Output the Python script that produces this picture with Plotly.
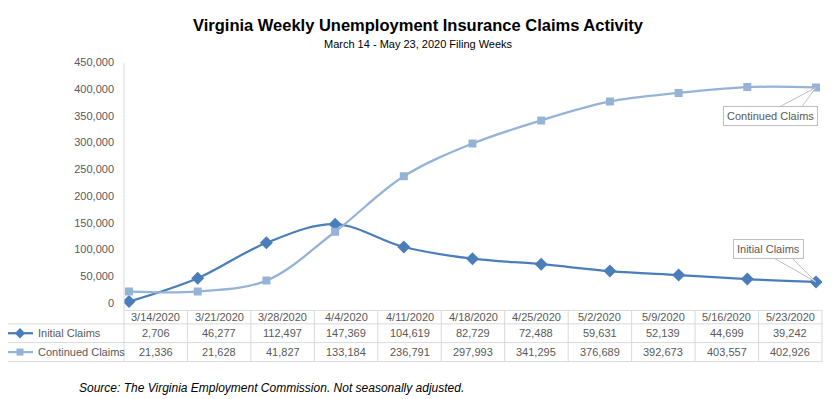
import plotly.graph_objects as go

# ---- data ----
weeks = ["3/14/2020", "3/21/2020", "3/28/2020", "4/4/2020", "4/11/2020", "4/18/2020",
         "4/25/2020", "5/2/2020", "5/9/2020", "5/16/2020", "5/23/2020"]
initial_claims = [2706, 46277, 112497, 147369, 104619, 82729, 72488, 59631, 52139, 44699, 39242]
continued_claims = [21336, 21628, 41827, 133184, 236791, 297993, 341295, 376689, 392673, 403557, 402926]
series_names = ["Initial Claims", "Continued Claims"]
y_ticks = list(range(0, 450001, 50000))

title = "Virginia Weekly Unemployment Insurance Claims Activity"
subtitle = "March 14 - May 23, 2020 Filing Weeks"
source = "Source: The Virginia Employment Commission. Not seasonally adjusted."

# ---- style / geometry (window pixel coordinates; page has 8px body margin) ----
OFF = 8
WIN_W, WIN_H = 839, 399
W, H = WIN_W - OFF, WIN_H - OFF
C_INIT = "#4A7EBB"
C_CONT = "#95B3D7"
GRID = "#D9D9D9"
TXT = "#595959"
FONT = "Liberation Sans, Arial, sans-serif"

PL, PR, PT, PB = 124, 822, 57, 309     # plot area in window pixels
X0_PX, X_STEP = 129, 68.7               # first point pixel, px per category
Y_TOP = 450000
Y0_PX = 301.5                           # pixel of value 0
Y_SCALE = (Y0_PX - PT) / Y_TOP
y_min = -(PB - Y0_PX) / Y_SCALE
x_min = -(X0_PX - PL) / X_STEP
x_max = (PR - X0_PX) / X_STEP

def px_x(i):
    return X0_PX + i * X_STEP

def px_y(v):
    return Y0_PX - v * Y_SCALE

def fx(px):
    return (px - OFF) / W

def fy(py):
    return 1 - (py - OFF) / H

xs = list(range(len(weeks)))

fig = go.Figure()
fig.add_trace(go.Scatter(x=xs, y=initial_claims, name=series_names[0], mode="lines+markers",
                         line=dict(color=C_INIT, width=2.25, shape="spline", smoothing=1),
                         marker=dict(symbol="diamond", size=10, color=C_INIT),
                         xaxis="x", yaxis="y", hoverinfo="skip"))
fig.add_trace(go.Scatter(x=xs, y=continued_claims, name=series_names[1], mode="lines+markers",
                         line=dict(color=C_CONT, width=2.25, shape="spline", smoothing=1),
                         marker=dict(symbol="square", size=8, color=C_CONT),
                         xaxis="x", yaxis="y", hoverinfo="skip"))

# ---- data table (pixel axes) ----
col_w = (PR - PL) / len(weeks)
row_y = [PB, 322.7, 341.7, 361]
LEFT = 3.3
shapes = []
annotations = []

def hline(x0, x1, y):
    shapes.append(dict(type="line", xref="x2", yref="y2", x0=x0, x1=x1, y0=y, y1=y,
                       line=dict(color=GRID, width=1), layer="below"))

def vline(x, y0, y1):
    shapes.append(dict(type="line", xref="x2", yref="y2", x0=x, x1=x, y0=y0, y1=y1,
                       line=dict(color=GRID, width=1), layer="below"))

hline(PL, PR, row_y[0])
for ry in row_y[1:]:
    hline(LEFT, PR, ry)
for i in range(len(weeks) + 1):
    vline(PL + i * col_w, row_y[0], row_y[3])
vline(LEFT, row_y[1], row_y[3])
# y axis line
vline(PL, PT + 1, PB)

def txt(x, y, s, size=11, color=TXT, xanchor="center", family=FONT, **kw):
    annotations.append(dict(xref="x2", yref="y2", x=x, y=y, text=s, showarrow=False,
                            xanchor=xanchor, yanchor="middle",
                            font=dict(family=family, size=size, color=color), **kw))

rows = [initial_claims, continued_claims]
for i, w in enumerate(weeks):
    cx = PL + (i + 0.5) * col_w
    txt(cx, (row_y[0] + row_y[1]) / 2, w)
    for r, vals in enumerate(rows):
        txt(cx, (row_y[r + 1] + row_y[r + 2]) / 2, f"{vals[i]:,}")

# legend keys inside table
for r, (name, col, sym, sz) in enumerate([(series_names[0], C_INIT, "diamond", 8),
                                          (series_names[1], C_CONT, "square", 7)]):
    cy = (row_y[r + 1] + row_y[r + 2]) / 2
    fig.add_trace(go.Scatter(x=[7, 33], y=[cy, cy], mode="lines", line=dict(color=col, width=2.25),
                             xaxis="x2", yaxis="y2", hoverinfo="skip", showlegend=False))
    fig.add_trace(go.Scatter(x=[20], y=[cy], mode="markers", marker=dict(symbol=sym, size=sz, color=col),
                             xaxis="x2", yaxis="y2", hoverinfo="skip", showlegend=False))
    txt(36, cy, name, xanchor="left")

# ---- titles ----
txt(418, 19, f"<b>{title}</b>", size=16.5, color="#000000")
txt(418, 38, subtitle, size=11, color="#000000")
txt(77, 388, f"<i>{source}</i>", size=12, color="#000000", xanchor="left")

# ---- callouts ----
def callout(text, cx, cy, bx0, bx1, by, tip_i, tip_v):
    tx, ty = px_x(tip_i), px_y(tip_v)
    shapes.append(dict(type="path", xref="x2", yref="y2",
                       path=f"M {bx0},{by} L {tx},{ty} L {bx1},{by} Z",
                       fillcolor="white", line=dict(color="#BFBFBF", width=1), layer="above"))
    txt(cx, cy, text, bgcolor="white", bordercolor="#BFBFBF", borderwidth=1, borderpad=3)

last = len(weeks) - 1
callout(series_names[1], 770, 111.5, 780, 802, 102, last, continued_claims[last])
callout(series_names[0], 768, 247, 774, 792, 256, last, initial_claims[last])

fig.update_layout(
    width=W, height=H, autosize=False,
    margin=dict(l=0, r=0, t=0, b=0),
    paper_bgcolor="white", plot_bgcolor="rgba(0,0,0,0)",
    showlegend=False,
    shapes=shapes, annotations=annotations,
    xaxis=dict(domain=[fx(PL), fx(PR)], range=[x_min, x_max], showgrid=False, zeroline=False,
               showticklabels=False, showline=False, fixedrange=True, anchor="y"),
    yaxis=dict(domain=[fy(PB), fy(PT)], range=[y_min, Y_TOP], showgrid=False, zeroline=False,
               tickvals=y_ticks, tickformat=",", ticks="", ticklabelstandoff=9, anchor="x",
               tickfont=dict(family=FONT, size=11, color=TXT), showline=False, fixedrange=True),
    xaxis2=dict(domain=[0, 1], range=[OFF, OFF + W], visible=False, anchor="y2", fixedrange=True),
    yaxis2=dict(domain=[0, 1], range=[OFF + H, OFF], visible=False, anchor="x2", fixedrange=True),
)

fig.write_html("out.html")
